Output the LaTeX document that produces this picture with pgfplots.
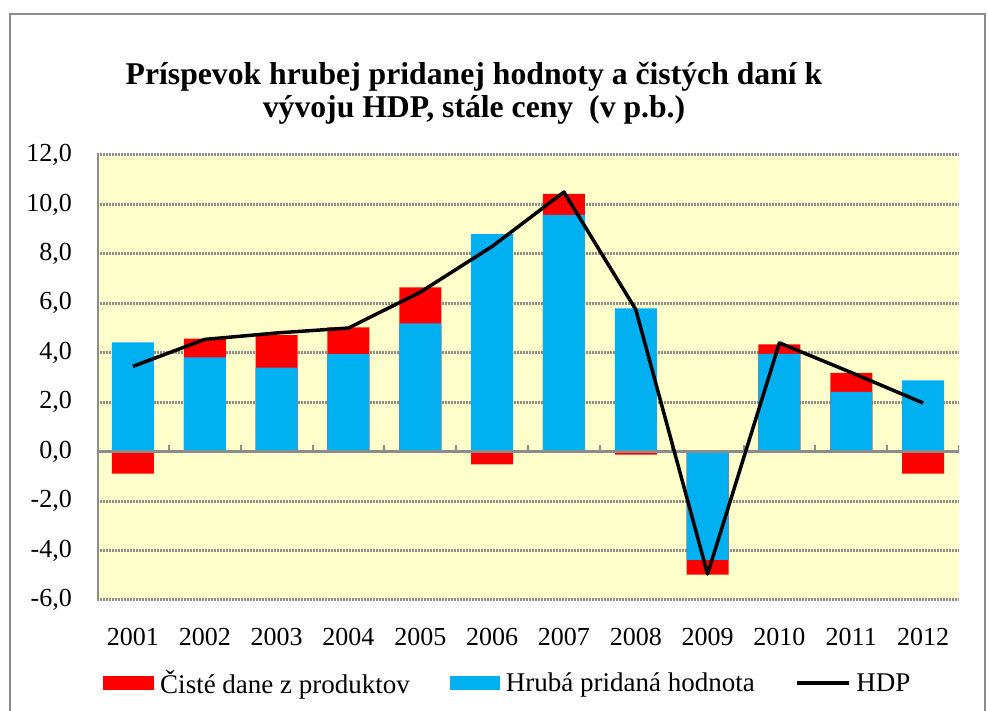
\documentclass[border=0pt]{standalone}
\usepackage{pgfplots}
\pgfplotsset{compat=1.18}
\usepackage{fontspec}
\setmainfont{Liberation Serif}
\definecolor{barblue}{HTML}{00B0F0}
\definecolor{barred}{HTML}{FF0000}
\definecolor{bgyellow}{HTML}{FFFFCC}
\definecolor{axgray}{HTML}{8C8C8C}
\begin{document}
\begin{tikzpicture}
\path[use as bounding box] (0,0) rectangle (988pt,711pt);
\draw[axgray, line width=2.5pt] (10pt,-5pt) -- (10pt,697pt) -- (985pt,697pt) -- (985pt,-5pt);
\node[anchor=base, inner sep=0pt, font=\fontsize{31.7}{34}\selectfont\bfseries] at (474pt,626pt) {Príspevok hrubej pridanej hodnoty a čistých daní k};
\node[anchor=base, inner sep=0pt, font=\fontsize{31.7}{34}\selectfont\bfseries] at (474pt,593pt) {vývoju HDP, stále ceny\ \ (v p.b.)};
\begin{axis}[
  at={(97pt,111pt)}, anchor=south west,
  scale only axis, width=862pt, height=445pt,
  xmin=-0.5, xmax=11.5, ymin=-6, ymax=12,
  enlargelimits=false,
  axis background/.style={fill=bgyellow},
  axis line style={draw=none},
  xtick={0,...,11},
  xticklabels={2001,2002,2003,2004,2005,2006,2007,2008,2009,2010,2011,2012},
  ytick={-6,-4,...,12},
  major tick length=0pt,
  ymajorgrids,
  grid style={axgray, line width=3pt, dash pattern=on 2pt off 1pt},
  ticklabel style={font=\fontsize{26}{30}\selectfont},
  xticklabel style={anchor=base, inner sep=0pt, yshift=-46pt},
  yticklabel style={anchor=east, inner sep=0pt, xshift=-25pt,
    /pgf/number format/.cd, fixed, fixed zerofill, precision=1, use comma, assume math mode=true},
  legend columns=3,
  legend style={font=\fontsize{27}{31}\selectfont, draw=none, fill=none,
    at={(axis description cs:0.007,-0.1865)}, anchor=west, inner sep=0pt,
    nodes={inner sep=0pt},
    /tikz/every odd column/.append style={column sep=6pt},
    /tikz/every even column/.append style={column sep=40pt}},
]
% Cisté dane z produktov (bar end values, drawn from zero)
\addplot[ybar, bar width=42pt, bar shift=0pt, fill=barred, draw=none,
  legend image code/.code={\fill[barred] (0pt,-7pt) rectangle (51pt,7pt);}]
  coordinates {(0,-0.89) (1,4.57) (2,4.71) (3,5.03) (4,6.65) (5,-0.51) (6,10.43) (7,-0.12) (8,-4.97) (9,4.34) (10,3.19) (11,-0.89)};
\addlegendentry{Čisté dane z produktov}
% Hrubá pridaná hodnota
\addplot[ybar, bar width=42pt, bar shift=0pt, fill=barblue, draw=none,
  legend image code/.code={\fill[barblue] (0pt,-7pt) rectangle (50pt,7pt);}]
  coordinates {(0,4.42) (1,3.81) (2,3.40) (3,3.95) (4,5.19) (5,8.80) (6,9.58) (7,5.80) (8,-4.38) (9,3.96) (10,2.42) (11,2.88)};
\addlegendentry{Hrubá pridaná hodnota}
\draw[axgray, line width=3pt] (axis cs:-0.5,0) -- (axis cs:11.5,0);
\draw[axgray, line width=3pt] (axis cs:-0.5,-6) -- (axis cs:-0.5,12);
\pgfplotsinvokeforeach{0.5,1.5,2.5,3.5,4.5,5.5,6.5,7.5,8.5,9.5,10.5,11.5}{
  \draw[axgray, line width=2pt] (axis cs:#1,0) -- ++(0pt,7pt);
}
% HDP
\addplot[sharp plot, black, line width=3.5pt, line join=round, mark=none,
  legend image code/.code={\draw[black, line width=3.5pt] (0pt,0pt) -- (52pt,0pt);}]
  coordinates {(0,3.45) (1,4.54) (2,4.8) (3,5.0) (4,6.45) (5,8.3) (6,10.5) (7,5.75) (8,-4.95) (9,4.4) (10,3.2) (11,1.97)};
\addlegendentry{HDP}
\end{axis}
\end{tikzpicture}
\end{document}
